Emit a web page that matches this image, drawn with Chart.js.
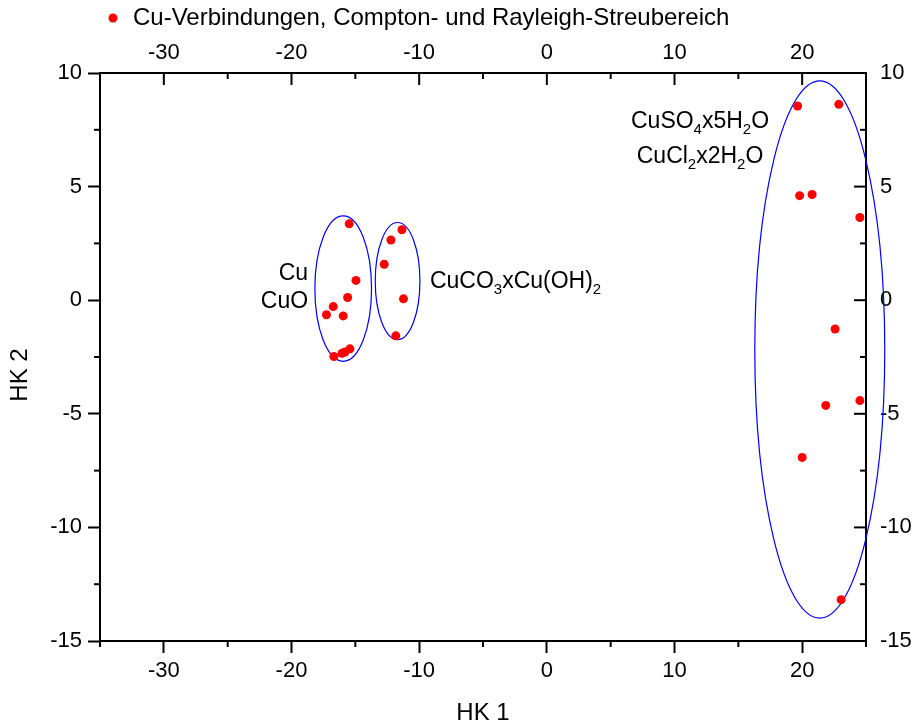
<!DOCTYPE html>
<html>
<head>
<meta charset="utf-8">
<title>HK 1 / HK 2</title>
<script src="https://cdn.jsdelivr.net/npm/chart.js@4.4.0/dist/chart.umd.min.js"></script>
<style>
  body { margin: 0; background: #fff; }
</style>
</head>
<body>
<canvas id="chart" width="916" height="725"></canvas>
<script>
// axis ticks
var xTicks = [-30, -20, -10, 0, 10, 20];
var xMinorTicks = [-35, -25, -15, -5, 5, 15, 25];
var yTicks = [-15, -10, -5, 0, 5, 10];
var yMinorTicks = [-12.5, -7.5, -2.5, 2.5, 7.5];

// scores: HK 1 / HK 2
var hk1 = [-15.48, -14.95, -15.6, -16.73, -17.26, -15.95, -15.42, -15.81, -16.05, -16.68,
           -11.35, -12.21, -12.74, -11.23, -11.83,
           19.64, 22.87, 19.8, 20.78, 24.52, 22.58, 24.52, 21.85, 20.0, 23.05];
var hk2 = [3.36, 0.87, 0.12, -0.28, -0.64, -0.69, -2.14, -2.28, -2.34, -2.48,
           3.1, 2.65, 1.58, 0.06, -1.57,
           8.55, 8.62, 4.6, 4.65, 3.64, -1.27, -4.42, -4.63, -6.92, -13.18];

// group ellipses (centre and half axes in data units)
var ellipseCx = [-15.95, -11.69, 21.38];
var ellipseCy = [0.51, 0.84, -2.17];
var ellipseRx = [2.22, 1.75, 5.09];
var ellipseRy = [3.2, 2.58, 11.82];

// group labels, "_" marks a subscript character
var labelText = ['Cu', 'CuO', 'CuCO_3xCu(OH)_2', 'CuSO_4x5H_2O', 'CuCl_2x2H_2O'];
var labelX = [-18.7, -18.7, -9.16, 12.0, 12.0];
var labelY = [1.25, 0.0, 0.9, 7.93, 6.39];
var labelAlign = ['right', 'right', 'left', 'center', 'center'];

var seriesName = 'Cu-Verbindungen, Compton- und Rayleigh-Streubereich';

var FONT = "'Liberation Sans', Arial, sans-serif";
Chart.defaults.font.family = FONT;
Chart.defaults.color = '#000';

var points = hk1.map(function (v, i) { return { x: v, y: hk2[i] }; });

function formulaParts(text) {
    var parts = [];
    for (var i = 0; i < text.length; i++) {
        if (text[i] === '_') { parts.push({ t: text[i + 1], sub: true }); i++; }
        else parts.push({ t: text[i], sub: false });
    }
    return parts;
}

function drawFormula(ctx, text, x, y, align) {
    var parts = formulaParts(text);
    var mainFont = '23px ' + FONT, subFont = '15px ' + FONT;
    var total = 0;
    parts.forEach(function (p) {
        ctx.font = p.sub ? subFont : mainFont;
        p.w = ctx.measureText(p.t).width;
        total += p.w;
    });
    var cx = align === 'right' ? x - total : align === 'center' ? x - total / 2 : x;
    ctx.textAlign = 'left';
    ctx.textBaseline = 'alphabetic';
    parts.forEach(function (p) {
        ctx.font = p.sub ? subFont : mainFont;
        ctx.fillText(p.t, cx, p.sub ? y + 14 : y + 8);
        cx += p.w;
    });
}

function tickMarks(ctx, scale, values, len, side) {
    values.forEach(function (v) {
        var p = scale.getPixelForValue(v);
        ctx.beginPath();
        if (side === 'bottom') { ctx.moveTo(p, scale.top); ctx.lineTo(p, scale.top + len); }
        if (side === 'top') { ctx.moveTo(p, scale.bottom); ctx.lineTo(p, scale.bottom + len); }
        if (side === 'left') { ctx.moveTo(scale.right, p); ctx.lineTo(scale.right - len, p); }
        if (side === 'right') { ctx.moveTo(scale.left, p); ctx.lineTo(scale.left - len, p); }
        ctx.stroke();
    });
}

var extras = {
    id: 'extras',
    beforeDatasetsDraw: function (chart) {
        var ctx = chart.ctx, x = chart.scales.x, y = chart.scales.y;
        ctx.save();
        ctx.strokeStyle = '#0000ff';
        ctx.lineWidth = 1.2;
        ellipseCx.forEach(function (cx, i) {
            var px = x.getPixelForValue(cx), py = y.getPixelForValue(ellipseCy[i]);
            var rx = Math.abs(x.getPixelForValue(cx + ellipseRx[i]) - px);
            var ry = Math.abs(y.getPixelForValue(ellipseCy[i] + ellipseRy[i]) - py);
            ctx.beginPath();
            ctx.ellipse(px, py, rx, ry, 0, 0, Math.PI * 2);
            ctx.stroke();
        });
        ctx.restore();
    },
    afterDraw: function (chart) {
        var ctx = chart.ctx, s = chart.scales;
        ctx.save();
        ctx.strokeStyle = '#000';
        ctx.lineWidth = 2;
        // minor ticks outside, mirrored ticks inside
        tickMarks(ctx, s.x, xMinorTicks, 6, 'bottom');
        tickMarks(ctx, s.y, yMinorTicks, 6, 'left');
        tickMarks(ctx, s.x2, xTicks, 12, 'top');
        tickMarks(ctx, s.x2, xMinorTicks, 6, 'top');
        tickMarks(ctx, s.y2, yTicks, 12, 'right');
        tickMarks(ctx, s.y2, yMinorTicks, 6, 'right');

        ctx.fillStyle = '#000';
        labelText.forEach(function (t, i) {
            drawFormula(ctx, t, s.x.getPixelForValue(labelX[i]), s.y.getPixelForValue(labelY[i]), labelAlign[i]);
        });

        // legend
        ctx.fillStyle = '#ff0000';
        ctx.beginPath();
        ctx.arc(113, 18, 4.5, 0, Math.PI * 2);
        ctx.fill();
        ctx.fillStyle = '#000';
        ctx.font = '24px ' + FONT;
        ctx.textAlign = 'left';
        ctx.textBaseline = 'middle';
        ctx.fillText(seriesName, 133, 18);

        // y axis title
        ctx.font = '24px ' + FONT;
        ctx.textAlign = 'center';
        ctx.translate(20, 375);
        ctx.rotate(-Math.PI / 2);
        ctx.fillText('HK 2', 0, 0);
        ctx.restore();
    }
};

var axisBorder = { color: '#000', width: 2 };
var tickFont = { size: 22 };

new Chart(document.getElementById('chart'), {
    type: 'scatter',
    data: {
        datasets: [{
            label: seriesName,
            data: points,
            backgroundColor: '#ff0000',
            borderColor: '#ff0000',
            borderWidth: 0,
            pointRadius: 4.5,
            pointHoverRadius: 4.5
        }]
    },
    options: {
        responsive: false,
        animation: false,
        devicePixelRatio: 1,
        layout: { padding: 0 },
        plugins: { legend: { display: false }, tooltip: { enabled: false } },
        scales: {
            x: {
                type: 'linear', position: 'bottom', min: -35, max: 25,
                afterBuildTicks: function (sc) { sc.ticks = xTicks.map(function (v) { return { value: v }; }); },
                afterFit: function (sc) { sc.height = 84; },
                border: axisBorder,
                grid: { drawOnChartArea: false, tickLength: 12, tickWidth: 2, tickColor: '#000' },
                ticks: { font: tickFont, padding: 5, maxRotation: 0 },
                title: { display: true, text: 'HK 1', font: { size: 24, lineHeight: 1 }, padding: 0 }
            },
            x2: {
                type: 'linear', position: 'top', min: -35, max: 25,
                afterBuildTicks: function (sc) { sc.ticks = xTicks.map(function (v) { return { value: v }; }); },
                afterFit: function (sc) { sc.height = 73; },
                border: axisBorder,
                grid: { drawOnChartArea: false, drawTicks: false },
                ticks: { font: tickFont, padding: 7, maxRotation: 0 }
            },
            y: {
                type: 'linear', position: 'left', min: -15, max: 10,
                afterBuildTicks: function (sc) { sc.ticks = yTicks.map(function (v) { return { value: v }; }); },
                afterFit: function (sc) { sc.width = 100; },
                border: axisBorder,
                grid: { drawOnChartArea: false, tickLength: 12, tickWidth: 2, tickColor: '#000' },
                ticks: { font: tickFont, padding: 6 }
            },
            y2: {
                type: 'linear', position: 'right', min: -15, max: 10,
                afterBuildTicks: function (sc) { sc.ticks = yTicks.map(function (v) { return { value: v }; }); },
                afterFit: function (sc) { sc.width = 50; },
                border: axisBorder,
                grid: { drawOnChartArea: false, drawTicks: false },
                ticks: { font: tickFont, padding: 14 }
            }
        }
    },
    plugins: [extras]
});
</script>
</body>
</html>
